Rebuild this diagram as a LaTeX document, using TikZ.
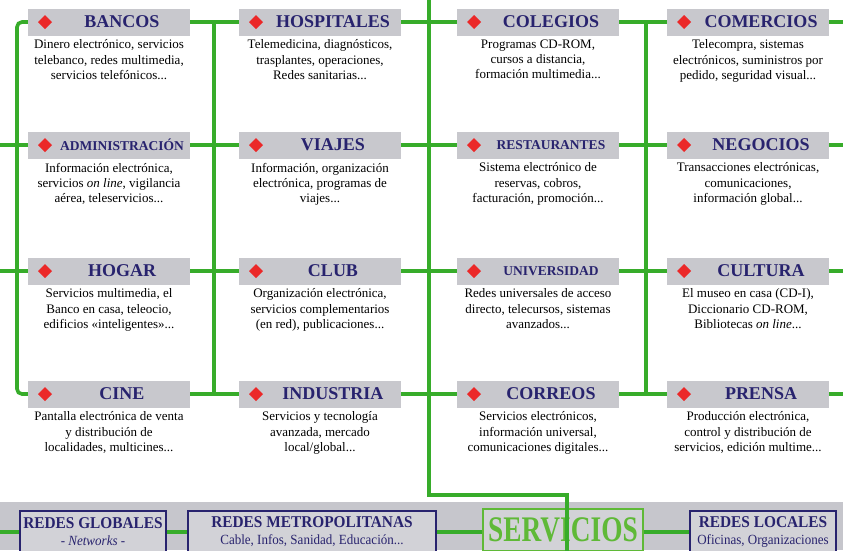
\documentclass[tikz,border=0pt]{standalone}
\usepackage{fontspec}
\setmainfont{Liberation Serif}
\newfontfamily\narrowfont[FakeStretch=0.93]{Liberation Serif}
\newfontfamily\hubfont[FakeStretch=0.76]{Liberation Serif}
\usetikzlibrary{positioning}
\definecolor{busgreen}{RGB}{55,172,42}
\definecolor{hubgreen}{RGB}{95,185,55}
\definecolor{barfill}{RGB}{200,200,205}
\definecolor{bandfill}{RGB}{198,198,204}
\definecolor{netfill}{RGB}{210,210,215}
\definecolor{navy}{RGB}{40,35,110}
\definecolor{gemred}{RGB}{235,40,40}

\begin{document}
\begin{tikzpicture}[x=1pt,y=1pt]
\tikzstyle{every node}+=[inner sep=0pt]
\tikzstyle{bar}=[fill=barfill, minimum width=162pt, minimum height=27pt, text=navy, font=\fontsize{18}{20}\selectfont\bfseries, execute at begin node=\hspace*{26pt}, path picture={\fill [gemred] ([xshift=10pt]path picture bounding box.west) -- ++(7,7) -- ++(7,-7) -- ++(-7,-7) -- cycle;}]
\tikzstyle{minor}=[font=\fontsize{13.5}{15}\selectfont\bfseries]
\tikzstyle{body}=[align=center, font=\fontsize{13}{15.2}\selectfont]
\tikzstyle{bus}=[draw=busgreen, line width=3.6pt]
\tikzstyle{net}=[draw=navy, line width=1.2pt, fill=netfill, text=navy, align=center, minimum height=42pt, font=\narrowfont\fontsize{14}{17}\selectfont]
\tikzstyle{hub}=[draw=hubgreen, line width=1.5pt, fill=netfill, text=hubgreen, minimum width=160pt, minimum height=42pt, font=\hubfont\fontsize{36}{36}\selectfont\bfseries]
\useasboundingbox (0,0) rectangle (843,-550);
\fill [bandfill] (0,-502) rectangle (843,-550);
\coordinate (busA) at (17,0);
\coordinate (busB) at (214,0);
\coordinate (busC) at (429,0);
\coordinate (busD) at (646,0);
\coordinate (edgeL) at (0,0);
\coordinate (edgeR) at (843,0);
\coordinate (drop) at (567,-495);
\node [bar] (bancos) at (109,-22) {BANCOS};
\node [bar] (hospitales) at (320,-22) {HOSPITALES};
\node [bar] (colegios) at (538,-22) {COLEGIOS};
\node [bar] (comercios) at (748,-22) {COMERCIOS};
\node [bar, minor] (administracion) at (109,-145) {ADMINISTRACIÓN};
\node [bar] (viajes) at (320,-145) {VIAJES};
\node [bar, minor] (restaurantes) at (538,-145) {RESTAURANTES};
\node [bar] (negocios) at (748,-145) {NEGOCIOS};
\node [bar] (hogar) at (109,-271) {HOGAR};
\node [bar] (club) at (320,-271) {CLUB};
\node [bar, minor] (universidad) at (538,-271) {UNIVERSIDAD};
\node [bar] (cultura) at (748,-271) {CULTURA};
\node [bar] (cine) at (109,-394) {CINE};
\node [bar] (industria) at (320,-394) {INDUSTRIA};
\node [bar] (correos) at (538,-394) {CORREOS};
\node [bar] (prensa) at (748,-394) {PRENSA};
\node [body, below=4pt of bancos] (bancos-t) {Dinero electrónico, servicios\\telebanco, redes multimedia,\\servicios telefónicos...};
\node [body, below=4pt of hospitales] (hospitales-t) {Telemedicina, diagnósticos,\\trasplantes, operaciones,\\Redes sanitarias...};
\node [body, below=4pt of colegios] (colegios-t) {Programas CD-ROM,\\cursos a distancia,\\formación multimedia...};
\node [body, below=4pt of comercios] (comercios-t) {Telecompra, sistemas\\electrónicos, suministros por\\pedido, seguridad visual...};
\node [body, below=4pt of administracion] (administracion-t) {Información electrónica,\\servicios \textit{on line}, vigilancia\\aérea, teleservicios...};
\node [body, below=4pt of viajes] (viajes-t) {Información, organización\\electrónica, programas de\\viajes...};
\node [body, below=4pt of restaurantes] (restaurantes-t) {Sistema electrónico de\\reservas, cobros,\\facturación, promoción...};
\node [body, below=4pt of negocios] (negocios-t) {Transacciones electrónicas,\\comunicaciones,\\información global...};
\node [body, below=4pt of hogar] (hogar-t) {Servicios multimedia, el\\Banco en casa, teleocio,\\edificios «inteligentes»...};
\node [body, below=4pt of club] (club-t) {Organización electrónica,\\servicios complementarios\\(en red), publicaciones...};
\node [body, below=4pt of universidad] (universidad-t) {Redes universales de acceso\\directo, telecursos, sistemas\\avanzados...};
\node [body, below=4pt of cultura] (cultura-t) {El museo en casa (CD-I),\\Diccionario CD-ROM,\\Bibliotecas \textit{on line}...};
\node [body, below=4pt of cine] (cine-t) {Pantalla electrónica de venta\\y distribución de\\localidades, multicines...};
\node [body, below=4pt of industria] (industria-t) {Servicios y tecnología\\avanzada, mercado\\local/global...};
\node [body, below=4pt of correos] (correos-t) {Servicios electrónicos,\\información universal,\\comunicaciones digitales...};
\node [body, below=4pt of prensa] (prensa-t) {Producción electrónica,\\control y distribución de\\servicios, edición multime...};
\node [net, minimum width=146pt] (globales) at (93,-532) {{\bfseries\fontsize{16.5}{17}\selectfont REDES GLOBALES}\\- \textit{Networks} -};
\node [net, minimum width=248pt] (metro) at (312,-532) {{\bfseries\fontsize{16.5}{17}\selectfont REDES METROPOLITANAS}\\Cable, Infos, Sanidad, Educación...};
\node [hub] (servicios) at (563,-530) {SERVICIOS};
\node [net, minimum width=146pt] (locales) at (763,-532) {{\bfseries\fontsize{16.5}{17}\selectfont REDES LOCALES}\\Oficinas, Organizaciones};
\draw [bus, rounded corners=5pt] (bancos.west) -- (bancos.west -| busA) -- (cine.west -| busA) -- (cine.west);
\draw [bus] (administracion.west -| edgeL) -- (administracion.west);
\draw [bus] (hogar.west -| edgeL) -- (hogar.west);
\draw [bus] (bancos.east -| busB) -- (cine.east -| busB);
\draw [bus] (bancos.east) -- (hospitales.west);
\draw [bus] (administracion.east) -- (viajes.west);
\draw [bus] (hogar.east) -- (club.west);
\draw [bus] (cine.east) -- (industria.west);
\draw [bus] (hospitales.east) -- (colegios.west);
\draw [bus] (viajes.east) -- (restaurantes.west);
\draw [bus] (club.east) -- (universidad.west);
\draw [bus] (industria.east) -- (correos.west);
\draw [bus] (colegios.east -| busD) -- (correos.east -| busD);
\draw [bus] (colegios.east) -- (comercios.west);
\draw [bus] (restaurantes.east) -- (negocios.west);
\draw [bus] (universidad.east) -- (cultura.west);
\draw [bus] (correos.east) -- (prensa.west);
\draw [bus] (comercios.east) -- (comercios.east -| edgeR);
\draw [bus] (negocios.east) -- (negocios.east -| edgeR);
\draw [bus] (cultura.east) -- (cultura.east -| edgeR);
\draw [bus] (prensa.east) -- (prensa.east -| edgeR);
\draw [bus] (globales.west -| edgeL) -- (globales.west);
\draw [bus] (globales.east) -- (metro.west);
\draw [bus] (metro.east) -- (metro.east -| servicios.west);
\draw [bus] (locales.west -| servicios.east) -- (locales.west);
\draw [bus] (busC) -- (busC |- drop) -- (drop) -- (drop |- servicios.south);
\end{tikzpicture}
\end{document}
